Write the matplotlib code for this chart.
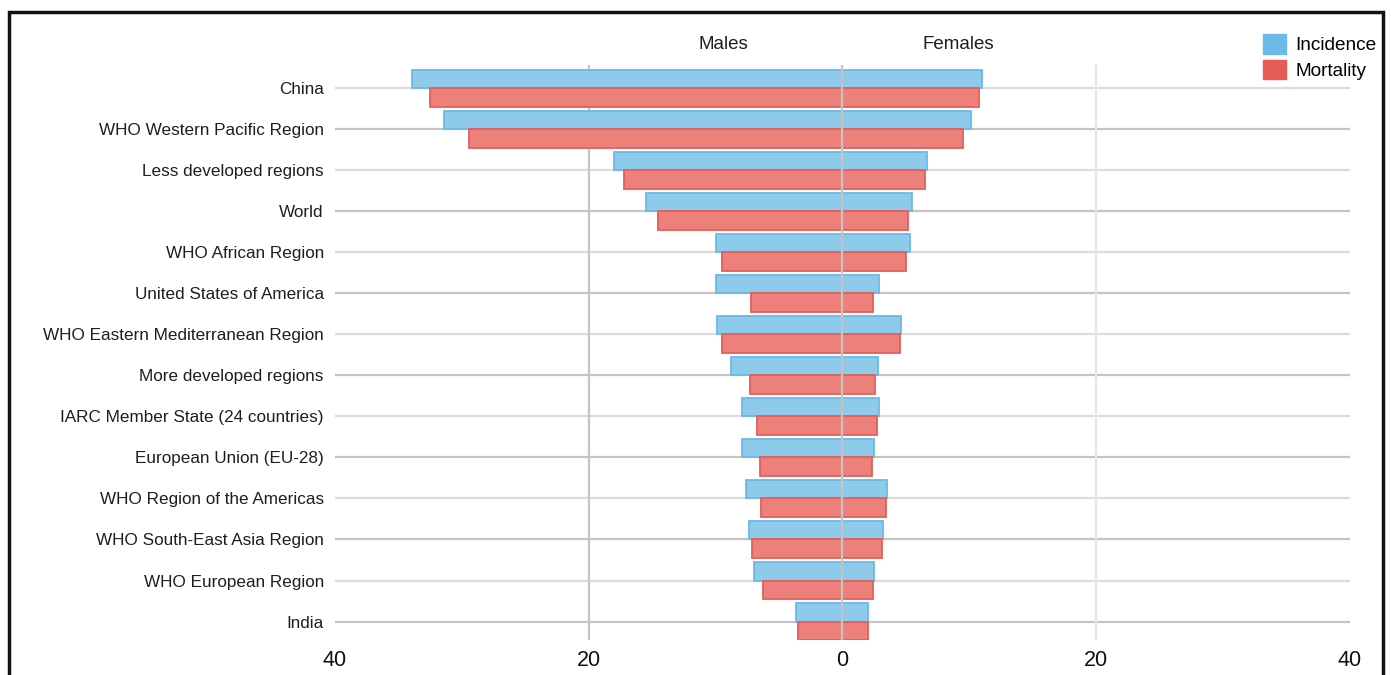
import matplotlib
matplotlib.use("Agg")
import matplotlib.pyplot as plt
from matplotlib.patches import Rectangle, Patch
import numpy as np

plt.rcParams['font.family'] = ['Liberation Sans', 'DejaVu Sans']

categories = ["China", "WHO Western Pacific Region", "Less developed regions", "World",
              "WHO African Region", "United States of America",
              "WHO Eastern Mediterranean Region", "More developed regions",
              "IARC Member State (24 countries)", "European Union (EU-28)",
              "WHO Region of the Americas", "WHO South-East Asia Region",
              "WHO European Region", "India"]
male_incidence = [33.9, 31.4, 18.0, 15.5, 10.0, 10.0, 9.9, 8.8, 7.95, 7.9, 7.6, 7.4, 7.0, 3.7]
male_mortality = [32.5, 29.4, 17.2, 14.5, 9.5, 7.2, 9.5, 7.3, 6.7, 6.5, 6.4, 7.1, 6.3, 3.5]
female_incidence = [11.0, 10.1, 6.7, 5.5, 5.3, 2.9, 4.6, 2.8, 2.9, 2.5, 3.5, 3.2, 2.5, 2.0]
female_mortality = [10.8, 9.5, 6.5, 5.2, 5.0, 2.4, 4.5, 2.6, 2.7, 2.3, 3.4, 3.1, 2.4, 2.0]
xticks = [-40, -20, 0, 20, 40]
xtick_labels = ["40", "20", "0", "20", "40"]

inc_fill = "#8ecbeb"
inc_edge = "#6bb9e6"
mor_fill = "#ee807b"
mor_edge = "#e35f5a"

fig = plt.figure(figsize=(13.91, 6.75), dpi=100)
ax = fig.add_axes([0.2408, 0.0519, 0.9705 - 0.2408, 0.9037 - 0.0519])

y = np.arange(len(categories))
h = 0.46

# horizontal category gridlines (alternating shades)
for i in y:
    ax.axhline(i, color="#dcdcdc" if i % 2 == 0 else "#c4c4c4", lw=1.6, zorder=1)
# vertical gridlines
ax.axvline(-20, color="#c4c4c4", lw=1.6, zorder=1)
ax.axvline(20, color="#e6e6e6", lw=1.6, zorder=1)

ax.barh(y - h / 2, [-v for v in male_incidence], height=h, color=inc_fill, edgecolor=inc_edge, lw=1.3, zorder=2)
ax.barh(y + h / 2, [-v for v in male_mortality], height=h, color=mor_fill, edgecolor=mor_edge, lw=1.3, zorder=2)
ax.barh(y - h / 2, female_incidence, height=h, color=inc_fill, edgecolor=inc_edge, lw=1.3, zorder=2)
ax.barh(y + h / 2, female_mortality, height=h, color=mor_fill, edgecolor=mor_edge, lw=1.3, zorder=2)

ax.axvline(0, color="#c4c4c4", lw=1.6, zorder=3)

ax.set_xlim(-40, 40)
ax.set_ylim(13.45, -0.57)
ax.set_yticks(y)
ax.set_yticklabels(categories, fontsize=12.3, color="#1e1e1e")
ax.set_xticks(xticks)
ax.set_xticklabels(xtick_labels, fontsize=15.5, color="#111111")
ax.tick_params(axis='y', length=0, pad=8)
ax.tick_params(axis='x', length=0, pad=7)
for s in ax.spines.values():
    s.set_visible(False)

ax.text(-9.4, -1.08, "Males", ha="center", va="center", fontsize=13.5, color="#1e1e1e")
ax.text(9.1, -1.08, "Females", ha="center", va="center", fontsize=13.5, color="#1e1e1e")

handles = [Patch(facecolor="#6bbbe8", edgecolor="#6bbbe8", label="Incidence"),
           Patch(facecolor="#e85a54", edgecolor="#e85a54", label="Mortality")]
fig.legend(handles=handles, loc="upper left", bbox_to_anchor=(1263 / 1391, 1 - 34 / 675), frameon=False,
           fontsize=13.7, handlelength=1.2, handleheight=1.2, handletextpad=0.5,
           labelspacing=0.3, borderaxespad=0.0, borderpad=0.0)

# black frame around the figure
fig.patches.append(Rectangle((9 / 1391, -0.05), (1383 - 9) / 1391, (1 - 12 / 675) + 0.05,
                             transform=fig.transFigure, fill=False, edgecolor="#111111", lw=2.5))

fig.savefig("out.png", dpi=100)
